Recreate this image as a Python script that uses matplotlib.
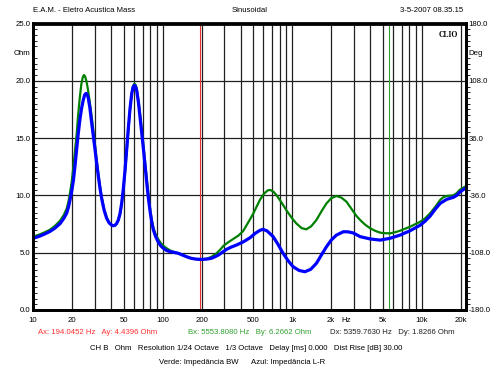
import matplotlib

matplotlib.use("Agg")
import matplotlib.pyplot as plt
from matplotlib.ticker import FixedLocator, NullFormatter

plt.rcParams["font.family"] = ["Liberation Sans", "DejaVu Sans"]

# Verde: Impedancia BW
freq_bw = [10, 11.3, 12.4, 13.5, 14.8, 16.2, 17.3, 18.2, 18.8, 19.3, 19.9, 20.5, 21.1,
           21.7, 22.3, 23.0, 23.6, 24.2, 24.7, 25.2, 25.8, 26.4, 27.3, 28.3, 29.2, 30.1,
           31.0, 31.9, 32.9, 33.9, 35.4, 37.0, 38.7, 40.5, 41.8, 43.0, 44.2, 45.5, 46.9,
           48.3, 49.8, 51.3, 52.9, 54.5, 56.1, 57.8, 59.2, 60.6, 61.9, 63.2, 65.1, 67.0,
           69.1, 71.2, 73.4, 75.6, 77.8, 80.1, 82.4, 84.8, 88.4, 92.3, 96.7, 101.5, 107,
           114, 122, 132, 142, 153, 165, 178, 192, 206, 222, 239, 261, 280, 295, 320, 351,
           385, 419, 445, 472, 500, 530, 563, 605, 650, 680, 720, 759, 830, 903, 990,
           1075, 1180, 1284, 1400, 1537, 1680, 1838, 2000, 2196, 2400, 2623, 2880, 3134,
           3346, 3650, 3996, 4380, 4772, 5200, 5700, 6200, 6807, 8130, 9710, 10600,
           11600, 12700, 13850, 14700, 15570, 17500, 18600, 19700, 21500, 21930]
z_bw = [6.4, 6.6, 6.8, 7.0, 7.35, 7.8, 8.3, 8.85, 9.5, 10.2, 11.2, 12.5, 13.9,
        15.3, 17.0, 18.6, 19.7, 20.3, 20.5, 20.4, 20.0, 19.4, 18.3, 17.0, 15.7, 14.4,
        13.1, 11.9, 10.8, 9.85, 8.8, 8.1, 7.6, 7.4, 7.35, 7.4, 7.55, 7.8, 8.3,
        9.2, 10.5, 12.0, 13.9, 15.8, 17.5, 18.9, 19.55, 19.75, 19.65, 19.3, 18.3, 17.1,
        15.7, 14.3, 12.8, 11.3, 10.0, 8.8, 7.9, 7.2, 6.6, 6.2, 5.85, 5.6, 5.4,
        5.2, 5.07, 4.95, 4.8, 4.65, 4.52, 4.45, 4.42, 4.42, 4.5, 4.65, 4.95, 5.3, 5.6,
        5.9, 6.2, 6.5, 6.9, 7.4, 7.9, 8.4, 9.0, 9.6, 10.15, 10.45, 10.47, 10.3, 10.0,
        9.35, 8.7, 8.05, 7.56, 7.15, 7.04, 7.3, 7.85, 8.6, 9.3, 9.75, 9.95, 9.8, 9.45,
        8.8, 8.2, 7.85, 7.45, 7.13, 6.9, 6.75, 6.7, 6.69, 6.78, 6.92, 7.27, 7.7, 8.0,
        8.44, 9.0, 9.6, 9.85, 9.95, 10.0, 10.2, 10.5, 10.76, 10.8]

# Azul: Impedancia L-R
freq_lr = [10, 11.3, 12.4, 13.5, 14.8, 16.2, 17.3, 18.2, 18.8, 19.3, 19.9, 20.5, 21.1,
           21.7, 22.3, 23.0, 23.7, 24.4, 25.0, 25.6, 26.1, 26.7, 27.5, 28.3, 29.2, 30.1,
           31.0, 31.9, 32.9, 33.9, 35.4, 37.0, 38.7, 40.5, 41.8, 43.0, 44.2, 45.5, 46.9,
           48.3, 49.8, 51.3, 52.9, 54.5, 56.1, 57.8, 59.2, 60.6, 61.9, 63.2, 65.1, 67.0,
           69.1, 71.2, 73.4, 75.6, 77.8, 80.1, 82.4, 84.8, 88.4, 92.3, 96.7, 101.5, 107,
           114, 122, 132, 142, 153, 165, 178, 192, 206, 222, 239, 254, 270, 290, 312, 340,
           372, 420, 472, 520, 563, 596, 640, 713, 780, 850, 930, 1015, 1130, 1253, 1390,
           1537, 1680, 1838, 2000, 2196, 2484, 2700, 2963, 3346, 3996, 4772, 5700, 6807,
           8130, 9710, 10600, 11600, 12700, 13850, 15570, 17500, 18600, 19700, 21500,
           21930]
z_lr = [6.25, 6.45, 6.65, 6.85, 7.15, 7.55, 8.0, 8.45, 9.0, 9.6, 10.4, 11.3, 12.6,
        14.0, 15.3, 16.6, 17.6, 18.3, 18.75, 18.9, 18.85, 18.5, 17.6, 16.4, 15.2, 14.0,
        12.8, 11.7, 10.6, 9.7, 8.7, 8.0, 7.6, 7.4, 7.35, 7.4, 7.55, 7.85, 8.4,
        9.3, 10.6, 12.2, 14.1, 16.0, 17.6, 18.9, 19.45, 19.6, 19.5, 19.1, 18.1, 16.8,
        15.4, 14.0, 12.5, 11.0, 9.7, 8.6, 7.7, 7.0, 6.4, 5.96, 5.6, 5.38, 5.2,
        5.09, 5.03, 4.95, 4.8, 4.65, 4.52, 4.45, 4.42, 4.42, 4.45, 4.52, 4.65, 4.8, 5.05,
        5.3, 5.5, 5.67, 5.95, 6.3, 6.7, 6.95, 7.04, 6.9, 6.4, 5.7, 4.95, 4.3, 3.78, 3.45,
        3.34, 3.55, 4.07, 4.8, 5.52, 6.1, 6.54, 6.83, 6.82, 6.72, 6.4, 6.2, 6.1, 6.26,
        6.54, 6.92, 7.4, 7.75, 8.2, 8.8, 9.3, 9.66, 9.83, 10.0, 10.3, 10.6, 10.65]

cursor_a = 194.0452
cursor_b = 5553.8080

x_ticks = [10, 20, 50, 100, 200, 500, 1000, 2000, 5000, 10000, 20000]
x_labels = ["10", "20", "50", "100", "200", "500", "1k", "2k", "5k", "10k", "20k"]
y_ticks = [0, 5, 10, 15, 20, 22.5, 25]
y_labels = ["0.0", "5.0", "10.0", "15.0", "20.0", "Ohm", "25.0"]
ph_ticks = [-180, -108, -36, 36, 108, 144, 180]
ph_labels = ["-180.0", "-108.0", "-36.0", "36.0", "108.0", "Deg", "180.0"]

fs = 5.6
fig = plt.figure(figsize=(4.96, 3.70), dpi=100)
ax = fig.add_axes([33 / 496, 1 - 310 / 370, 433 / 496, 286.5 / 370])
ax.set_xscale("log")
ax.set_xlim(10, 21930)
ax.set_ylim(0, 25)

# grid: every 1-2-...-9 per decade, plus horizontal lines every 5 ohm
grid_f = [m * 10 ** d for d in range(1, 5) for m in range(1, 10) if 10 < m * 10 ** d <= 20000]
for f in grid_f:
    ax.axvline(f, color="#202020", lw=0.9, zorder=1)
for yv in [5, 10, 15, 20]:
    ax.axhline(yv, color="#202020", lw=0.9, zorder=1)

ax.axvline(cursor_a, color="#e83030", lw=0.8, zorder=2)
ax.axvline(cursor_b, color="#30a030", lw=0.8, zorder=2)

ax.plot(freq_bw, z_bw, color="#008000", lw=1.6, zorder=3, solid_joinstyle="round")
ax.plot(freq_lr, z_lr, color="#0000ff", lw=2.3, zorder=4, solid_joinstyle="round")

ax.xaxis.set_major_locator(FixedLocator(x_ticks))
ax.set_xticklabels(x_labels)
ax.xaxis.set_minor_formatter(NullFormatter())
ax.tick_params(axis="x", which="both", length=0, pad=5, labelsize=fs)

ax.set_yticks(y_ticks)
ax.set_yticklabels(y_labels)
ax.yaxis.set_minor_locator(FixedLocator([i * 0.5 for i in range(51)]))
ax.tick_params(axis="y", which="major", length=0, pad=2, labelsize=fs)
ax.tick_params(axis="y", which="minor", direction="in", length=3, width=0.6)

ax2 = ax.twinx()
ax2.set_ylim(-180, 180)
ax2.set_yticks(ph_ticks)
ax2.set_yticklabels(ph_labels)
ax2.yaxis.set_minor_locator(FixedLocator([-180 + i * 7.2 for i in range(51)]))
ax2.tick_params(axis="y", which="major", length=0, pad=2, labelsize=fs)
ax2.tick_params(axis="y", which="minor", direction="out", length=3, width=0.6)

for a in (ax, ax2):
    for s in a.spines.values():
        s.set_linewidth(2)

ax.text(2600, -0.024, "Hz", transform=ax.get_xaxis_transform(), ha="center", va="top",
        fontsize=fs)
ax.text(0.982, 0.975, "CLIO", transform=ax.transAxes, ha="right", va="top",
        fontsize=5.5, fontweight="bold", family="Liberation Serif")

fig.text(33 / 496, 1 - 11 / 370, "E.A.M. - Eletro Acustica Mass", fontsize=fs, va="center")
fig.text(250 / 496, 1 - 11 / 370, "Sinusoidal", fontsize=fs, va="center", ha="center")
fig.text(463 / 496, 1 - 11 / 370, "3-5-2007 08.35.15", fontsize=fs, va="center", ha="right")

yr = 1 - 332 / 370
fig.text(38 / 496, yr, f"Ax: {cursor_a:.4f} Hz   Ay: 4.4396 Ohm", color="#ff3030",
         fontsize=fs, va="center")
fig.text(188 / 496, yr, f"Bx: {cursor_b:.4f} Hz   By: 6.2662 Ohm", color="#30a030",
         fontsize=fs, va="center")
fig.text(330 / 496, yr, "Dx: 5359.7630 Hz   Dy: 1.8266 Ohm", color="#202020",
         fontsize=fs, va="center")
fig.text(246 / 496, 1 - 349 / 370,
         "CH B   Ohm   Resolution 1/24 Octave   1/3 Octave   Delay [ms] 0.000   Dist Rise [dB] 30.00",
         fontsize=fs, va="center", ha="center")
fig.text(242 / 496, 1 - 363 / 370, "Verde: Impedância BW      Azul: Impedância L-R",
         fontsize=fs, va="center", ha="center")

fig.savefig("out.png", dpi=100)
